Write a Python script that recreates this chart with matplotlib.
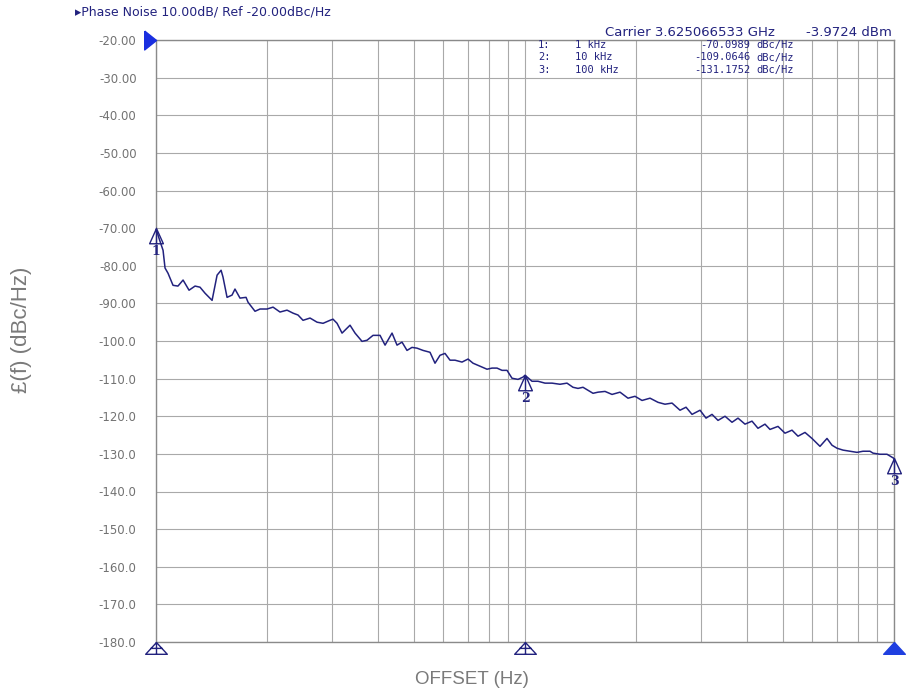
import numpy as np
import matplotlib.pyplot as plt
from matplotlib.path import Path

# phase noise trace
offset_hz = [1000, 1019, 1045, 1058, 1078, 1112, 1147, 1184, 1229, 1276,
             1316, 1358, 1419, 1464, 1501, 1519, 1558, 1607, 1637, 1689,
             1754, 1776, 1855, 1914, 2000, 2076, 2168, 2265, 2352, 2426,
             2503, 2615, 2732, 2836, 2962, 3018, 3095, 3193, 3356, 3463,
             3617, 3732, 3874, 4047, 4176, 4362, 4500, 4642, 4789, 4940,
             5097, 5292, 5528, 5703, 5884, 6070, 6263, 6461, 6750, 7008,
             7230, 7553, 7890, 8140, 8398, 8664, 8939, 9222, 9573, 9876,
             10000, 10446, 10845, 11330, 11836, 12441, 12996, 13492, 13920, 14361,
             14817, 15287, 15772, 16477, 17212, 18093, 19018, 19868, 20757, 21820,
             22937, 23955, 25031, 26307, 27316, 28357, 29811, 30945, 32124, 33348,
             34837, 36392, 37778, 39465, 41226, 42797, 44707, 46124, 48487, 50651,
             52917, 54932, 57384, 59948, 63016, 65831, 67917, 70073, 72742, 75993,
             79383, 82406, 86083, 87712, 91624, 95729, 100000]
noise_dbc = [-70.1, -72.7, -75.9, -80.6, -82.0, -85.2, -85.4, -83.8, -86.5, -85.4,
             -85.7, -87.3, -89.2, -82.5, -81.2, -83.0, -88.4, -87.8, -86.2, -88.6,
             -88.4, -89.7, -92.1, -91.5, -91.5, -91.0, -92.3, -91.8, -92.6, -93.1,
             -94.5, -93.9, -95.0, -95.3, -94.5, -94.2, -95.3, -97.9, -95.8, -97.9,
             -100.1, -99.8, -98.5, -98.5, -101.1, -97.9, -101.1, -100.3, -102.5, -101.7,
             -101.9, -102.5, -103.0, -105.9, -103.8, -103.3, -105.1, -105.1, -105.6, -104.8,
             -105.9, -106.7, -107.5, -107.2, -107.2, -107.8, -107.8, -109.9, -110.2, -109.6,
             -109.1, -110.7, -110.7, -111.2, -111.2, -111.5, -111.2, -112.3, -112.6, -112.3,
             -113.1, -113.9, -113.6, -113.4, -114.2, -113.6, -115.2, -114.7, -115.8, -115.2,
             -116.3, -116.8, -116.5, -118.4, -117.6, -119.5, -118.4, -120.5, -119.5, -121.1,
             -120.0, -121.6, -120.5, -122.1, -121.3, -123.2, -122.1, -123.5, -122.7, -124.5,
             -123.7, -125.3, -124.3, -125.9, -128.0, -125.9, -127.7, -128.5, -129.0, -129.3,
             -129.6, -129.3, -129.3, -129.8, -130.1, -130.1, -131.2]

marker_freq = [1000, 10000, 100000]
marker_val = [-70.0989, -109.0646, -131.1752]
marker_names = ["1", "2", "3"]
marker_freq_txt = ["1 kHz", "10 kHz", "100 kHz"]

yticks = np.arange(-20, -181, -10)
ytick_txt = ["%.2f" % v if v > -100 else "%.1f" % v for v in yticks]

navy = "#22227e"
grid_c = "#a9a9a9"

fig = plt.figure(figsize=(9.12, 6.96), dpi=100)
ax = fig.add_axes([156/912, 1 - 642/696, (894 - 156)/912, (642 - 40)/696])

ax.plot(offset_hz, noise_dbc, color=navy, lw=1.1, zorder=3)
ax.set_xscale("log")
ax.set_xlim(1000, 100000)
ax.set_ylim(-180, -20)
ax.set_yticks(yticks)
ax.set_yticklabels(ytick_txt)
ax.xaxis.set_major_formatter(plt.NullFormatter())
ax.xaxis.set_minor_formatter(plt.NullFormatter())
ax.tick_params(which="both", length=0, pad=14, labelsize=8.5, labelcolor="#727272")
ax.grid(True, which="both", axis="x", color=grid_c, lw=0.8)
ax.grid(True, which="major", axis="y", color=grid_c, lw=0.8)
for s in ax.spines.values():
    s.set_color("#8a8a8a")
    s.set_linewidth(1.0)

# marker symbol: triangle with apex on the point, plus stem
tri = Path([(0, 0), (-0.45, -1), (0.45, -1), (0, 0), (0, -1)],
           [Path.MOVETO, Path.LINETO, Path.LINETO, Path.LINETO, Path.LINETO])
for f, v, n in zip(marker_freq, marker_val, marker_names):
    ax.plot(f, v, marker=tri, ms=22, mfc="none", mec=navy, mew=1.0,
            clip_on=False, zorder=4)
    ax.annotate(n, (f, v), xytext=(0, -12), textcoords="offset points",
                ha="center", va="top", color=navy, fontsize=9,
                family="DejaVu Serif", fontweight="bold", annotation_clip=False)

# stimulus markers below the axis (triangle hanging under the line)
stim = Path([(0, 0), (-11, -12), (11, -12), (0, 0), (0, -12),
             (-6, -6), (6, -6)],
            [Path.MOVETO, Path.LINETO, Path.LINETO, Path.LINETO, Path.LINETO,
             Path.MOVETO, Path.LINETO])
stim_fill = Path([(0, 0), (-11, -12), (11, -12), (0, 0)])
for i, f in enumerate(marker_freq):
    if i == len(marker_freq) - 1:
        ax.plot(f, -180, marker=stim_fill, ms=17, mfc="#1f3fe0", mec="#1f3fe0",
                mew=1.0, clip_on=False, zorder=4)
    else:
        ax.plot(f, -180, marker=stim, ms=17, mfc="none", mec=navy, mew=1.0,
                clip_on=False, zorder=4)

# reference level arrow
ref_arrow = Path([(-1, 0.8), (0, 0), (-1, -0.8), (-1, 0.8)])
ax.plot(1000, -20, marker=ref_arrow, ms=17, mfc="#1a2fe0", mec="#1a2fe0",
        clip_on=False, zorder=5)

fig.text(75/912, 1 - 12/696, "\u25b8Phase Noise 10.00dB/ Ref -20.00dBc/Hz",
         color=navy, fontsize=9, va="center")
fig.text(605/912, 1 - 33/696, "Carrier 3.625066533 GHz", color=navy,
         fontsize=9.5, va="center")
fig.text(892/912, 1 - 33/696, "-3.9724 dBm", color=navy, fontsize=9.5,
         va="center", ha="right")
for i in range(3):
    yy = 1 - (45 + 12.5 * i)/696
    kw = dict(color=navy, fontsize=7.5, va="center", family="DejaVu Sans Mono")
    fig.text(538/912, yy, marker_names[i] + ":", **kw)
    fig.text(575/912, yy, marker_freq_txt[i], **kw)
    fig.text(750/912, yy, "%.4f" % marker_val[i], ha="right", **kw)
    fig.text(756/912, yy, "dBc/Hz", **kw)

fig.text(22/912, 1 - 330/696, "\u00a3(f) (dBc/Hz)", rotation=90, color="#7a7a7a",
         fontsize=16, family="Liberation Sans", ha="center", va="center")
fig.text(472/912, 1 - 680/696, "OFFSET (Hz)", color="#7a7a7a", fontsize=13.5,
         family="Liberation Sans", ha="center", va="center")

fig.savefig("out.png", dpi=100)
